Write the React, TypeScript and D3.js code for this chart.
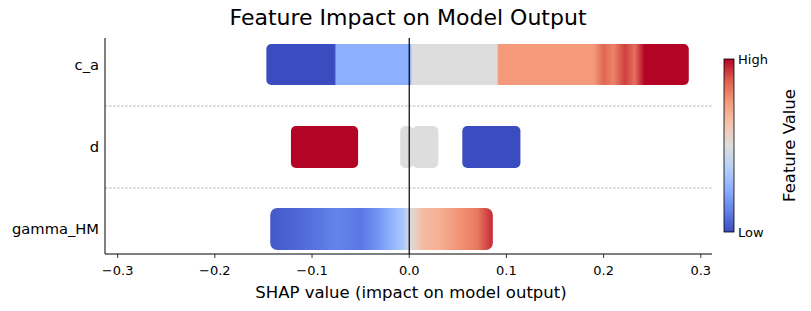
import * as d3 from 'd3'

// feature rows, bottom to top
const features = ['gamma_HM', 'd', 'c_a']

// c_a: colour stops along the swarm [shap value, feature value 0..1]
const caStops: [number, number][] = [
  [-0.147, 0], [-0.077, 0], [-0.075, 0.25], [0.001, 0.25], [0.003, 0.5],
  [0.09, 0.5], [0.092, 0.75], [0.19, 0.75], [0.2, 0.86], [0.21, 0.8], [0.222, 0.92],
  [0.232, 0.84], [0.242, 1], [0.2876, 1],
]

// d: separate clusters [from, to, feature value]
const dClusters: [number, number, number][] = [
  [-0.1217, -0.0526, 1],
  [-0.0093, 0.0045, 0.5],
  [0.0035, 0.0299, 0.5],
  [0.0546, 0.1144, 0],
]

// gamma_HM: colour stops along the swarm
const gammaStops: [number, number][] = [
  [-0.143, 0.03], [-0.11, 0.07], [-0.075, 0.13], [-0.05, 0.1], [-0.035, 0.16],
  [-0.018, 0.26], [-0.006, 0.34], [0.0, 0.48], [0.006, 0.56], [0.015, 0.66],
  [0.03, 0.68], [0.05, 0.76], [0.07, 0.82], [0.086, 0.95],
]

const xTicks = [-0.3, -0.2, -0.1, 0.0, 0.1, 0.2, 0.3]

const coolwarm = d3
  .scaleLinear<string>()
  .domain([0, 0.125, 0.25, 0.375, 0.5, 0.625, 0.75, 0.875, 1])
  .range(['#3b4cc0', '#6282ea', '#8db0fe', '#b8d0f9', '#dddddd', '#f5c4ad', '#f49a7b', '#de604d', '#b40426'])
  .interpolate(d3.interpolateRgb)

const W = 811
const H = 311
const FONT = 'DejaVu Sans, sans-serif'

export default function App() {
  const x = d3.scaleLinear().domain([-0.313, 0.3115]).range([105, 712])
  const y = d3.scaleLinear().domain([-0.305, 2.33]).range([254, 38])
  const bandH = 42
  const fmt = (v: number) => v.toFixed(1).replace('-', '\u2212')

  const gradient = (id: string, stops: [number, number][]) => {
    const x0 = x(stops[0][0])
    const x1 = x(stops[stops.length - 1][0])
    return (
      <linearGradient id={id} gradientUnits="userSpaceOnUse" x1={x0} x2={x1} y1={0} y2={0}>
        {stops.map(([s, v], i) => (
          <stop key={i} offset={(x(s) - x0) / (x1 - x0)} stopColor={coolwarm(v)} />
        ))}
      </linearGradient>
    )
  }

  const cbTop = 59
  const cbBottom = 232
  const cbStops = d3.range(0, 1.0001, 0.0625)
  const [xl, xr] = x.range()

  return (
    <svg width={W} height={H} style={{ position: 'absolute', left: 0, top: 0, fontFamily: FONT }}>
      <defs>
        {gradient('ca-grad', caStops)}
        {gradient('gamma-grad', gammaStops)}
        <linearGradient id="cb-grad" x1="0" x2="0" y1="1" y2="0">
          {cbStops.map((v) => (
            <stop key={v} offset={v} stopColor={coolwarm(v)} />
          ))}
        </linearGradient>
      </defs>
      <rect width={W} height={H} fill="#fff" />

      <text x={408} y={25} textAnchor="middle" fontSize={22} fill="#000">Feature Impact on Model Output</text>

      {/* separators between rows */}
      {[0.5, 1.5].map((v) => (
        <line key={v} x1={xl} x2={xr} y1={y(v)} y2={y(v)} stroke="#888" strokeWidth={0.6} strokeDasharray="2.5,1.5" />
      ))}

      {/* c_a */}
      <rect x={x(caStops[0][0])} width={x(caStops[caStops.length - 1][0]) - x(caStops[0][0])}
        y={y(2) - bandH / 2} height={bandH - 1} rx={5} fill="url(#ca-grad)" />

      {/* d */}
      {dClusters.map(([a, b, v], i) => (
        <rect key={i} x={x(a)} width={x(b) - x(a)} y={y(1) - bandH / 2} height={bandH} rx={5} fill={coolwarm(v)} />
      ))}

      {/* gamma_HM */}
      <rect x={x(gammaStops[0][0])} width={x(gammaStops[gammaStops.length - 1][0]) - x(gammaStops[0][0])}
        y={y(0) - bandH / 2} height={bandH} rx={7} fill="url(#gamma-grad)" />

      {/* zero line */}
      <line x1={x(0)} x2={x(0)} y1={38} y2={254} stroke="#000" strokeWidth={1.2} />

      {/* axes */}
      <line x1={xl} x2={xl} y1={38} y2={254} stroke="#000" strokeWidth={1} />
      <line x1={xl} x2={xr} y1={254} y2={254} stroke="#000" strokeWidth={1} />
      {xTicks.map((t) => (
        <g key={t}>
          <line x1={x(t)} x2={x(t)} y1={254} y2={258} stroke="#000" strokeWidth={0.8} />
          <text x={x(t)} y={275} textAnchor="middle" fontSize={13} fill="#000">{fmt(t)}</text>
        </g>
      ))}
      <text x={411} y={298} textAnchor="middle" fontSize={16.5} fill="#000">SHAP value (impact on model output)</text>

      {features.map((f, i) => (
        <text key={f} x={99} y={y(i)} dy="0.35em" textAnchor="end" fontSize={14.7} fill="#000">{f}</text>
      ))}

      {/* colour bar */}
      <rect x={724} y={cbTop} width={10} height={cbBottom - cbTop} fill="url(#cb-grad)" stroke="#000" strokeWidth={0.8} />
      <text x={738} y={cbTop} dy="0.35em" fontSize={13} fill="#000">High</text>
      <text x={738} y={cbBottom} dy="0.35em" fontSize={13} fill="#000">Low</text>
      <text transform={`translate(795,${(cbTop + cbBottom) / 2}) rotate(-90)`} textAnchor="middle" fontSize={16.5} fill="#000">Feature Value</text>
    </svg>
  )
}
